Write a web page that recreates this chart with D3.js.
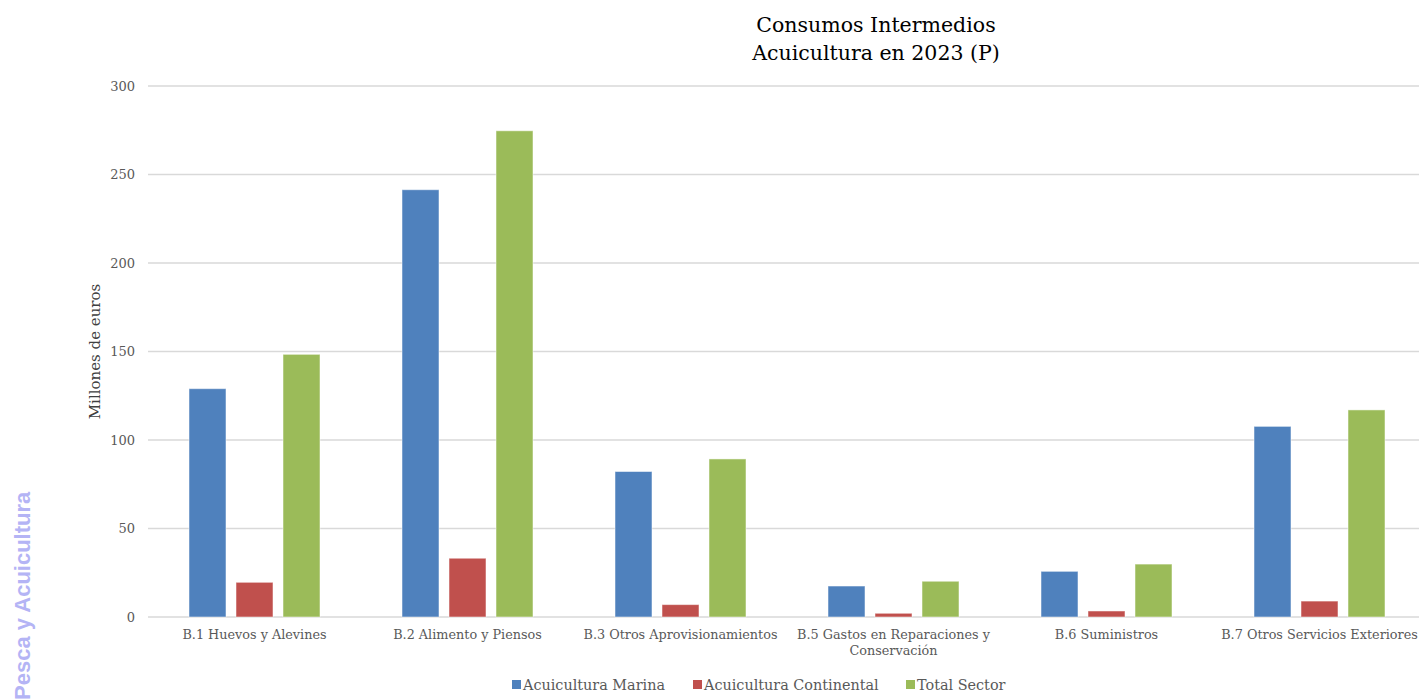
<!DOCTYPE html>
<html>
<head>
<meta charset="utf-8">
<script src="https://cdn.jsdelivr.net/npm/d3@7"></script>
<style>
  body { margin: 0; background: #fff; }
  text { font-family: Georgia, "DejaVu Serif", serif; }
</style>
</head>
<body>
<svg id="chart"></svg>
<script>
// data
var categories = ["B.1 Huevos y Alevines", "B.2 Alimento y Piensos", "B.3 Otros Aprovisionamientos",
  "B.5 Gastos en Reparaciones y Conservación", "B.6 Suministros", "B.7 Otros Servicios Exteriores"];
var seriesNames = ["Acuicultura Marina", "Acuicultura Continental", "Total Sector"];
var marina = [129.0, 241.4, 82.2, 17.5, 25.8, 107.7];
var continental = [19.6, 33.2, 7.0, 2.1, 3.4, 9.0];
var total = [148.4, 274.7, 89.3, 20.2, 29.9, 117.0];
var yTicks = [0, 50, 100, 150, 200, 250, 300];
var colors = ["#4F81BD", "#C0504D", "#9BBB59"];

var W = 1419, H = 700;
var margin = { top: 86, right: -7, bottom: 83, left: 148 };
var width = W - margin.left - margin.right;
var height = H - margin.top - margin.bottom;

var root = d3.select("#chart").attr("width", W).attr("height", H);
var svg = root.append("g")
  .attr("transform", "translate(" + margin.left + "," + margin.top + ")");

var data = categories.map(function (c, i) {
  return { cat: c, values: [marina[i], continental[i], total[i]] };
});

var x = d3.scaleBand().domain(categories).range([0, width]).paddingInner(0).paddingOuter(0);
var y = d3.scaleLinear().domain([0, 300]).range([height, 0]);
var groupW = 131;
var xSub = d3.scaleBand().domain(seriesNames).range([0, groupW]).paddingInner(0.213);

// gridlines
svg.append("g")
  .selectAll("line")
  .data(yTicks)
  .enter()
  .append("line")
  .attr("x1", 0).attr("x2", width)
  .attr("y1", function (d) { return y(d); })
  .attr("y2", function (d) { return y(d); })
  .attr("stroke", "#D9D9D9")
  .attr("stroke-width", 1.3);

// Y axis labels
var yAxis = svg.append("g")
  .call(d3.axisLeft(y).tickValues(yTicks).tickSize(0).tickPadding(13));
yAxis.select(".domain").remove();
yAxis.selectAll("text")
  .style("font-size", "13px")
  .style("font-family", "Georgia, 'DejaVu Serif', serif")
  .attr("fill", "#595959");

svg.append("text")
  .attr("transform", "translate(-48," + (height / 2) + ") rotate(-90)")
  .attr("text-anchor", "middle")
  .style("font-size", "15px")
  .attr("fill", "#404040")
  .text("Millones de euros");

// bars
svg.append("g")
  .selectAll("g")
  .data(data)
  .enter()
  .append("g")
  .attr("transform", function (d) {
    return "translate(" + (x(d.cat) + (x.bandwidth() - groupW) / 2) + ",0)";
  })
  .selectAll("rect")
  .data(function (d) {
    return d.values.map(function (v, i) { return { key: seriesNames[i], value: v, i: i }; });
  })
  .enter()
  .append("rect")
  .attr("x", function (d) { return xSub(d.key); })
  .attr("y", function (d) { return y(d.value); })
  .attr("width", xSub.bandwidth())
  .attr("height", function (d) { return height - y(d.value); })
  .attr("fill", function (d) { return colors[d.i]; })
  .attr("stroke", "#ffffff")
  .attr("stroke-opacity", 0.5)
  .attr("stroke-width", 1);

// X labels
var xAxis = svg.append("g")
  .attr("transform", "translate(0," + height + ")")
  .call(d3.axisBottom(x).tickSize(0).tickPadding(13));
xAxis.select(".domain").remove();
xAxis.selectAll("text")
  .style("font-size", "12.8px")
  .style("font-family", "Georgia, 'DejaVu Serif', serif")
  .attr("fill", "#595959")
  .each(function (d) {
    var t = d3.select(this);
    if (d.indexOf("Reparaciones y") > -1) {
      var parts = ["B.5 Gastos en Reparaciones y", "Conservación"];
      t.text(null);
      parts.forEach(function (p, k) {
        t.append("tspan").attr("x", 0).attr("dy", k === 0 ? "0.71em" : "1.25em").text(p);
      });
    }
  });

// title
var title = root.append("text")
  .attr("x", 876)
  .attr("text-anchor", "middle")
  .style("font-size", "20.5px")
  .attr("fill", "#000");
title.append("tspan").attr("x", 876).attr("y", 32).text("Consumos Intermedios");
title.append("tspan").attr("x", 876).attr("y", 60).text("Acuicultura en 2023 (P)");

// legend
var legendX = [512, 693, 906];
var legend = root.append("g");
seriesNames.forEach(function (s, i) {
  legend.append("rect")
    .attr("x", legendX[i]).attr("y", 680)
    .attr("width", 9).attr("height", 9)
    .attr("fill", colors[i]);
  legend.append("text")
    .attr("x", legendX[i] + 11).attr("y", 689.5)
    .style("font-size", "14.4px")
    .attr("fill", "#595959")
    .text(s);
});

// watermark
root.append("text")
  .attr("transform", "translate(30,700) rotate(-90)")
  .style("font-family", "'Liberation Sans', Arial, sans-serif")
  .style("font-weight", "bold")
  .style("font-size", "22px")
  .attr("fill", "#B4B4F5")
  .text("Pesca y Acuicultura");
</script>
</body>
</html>
